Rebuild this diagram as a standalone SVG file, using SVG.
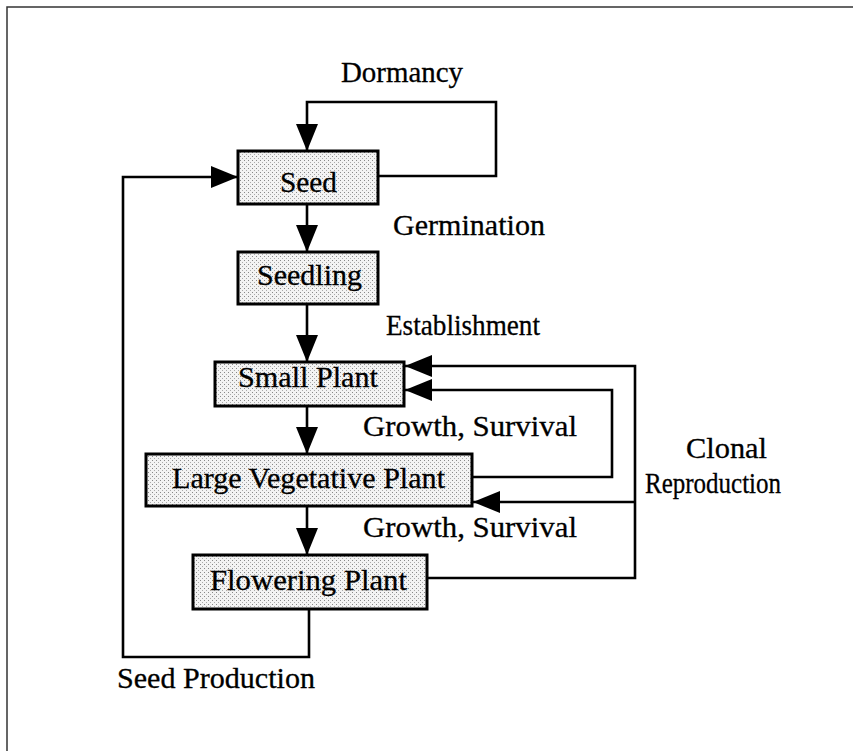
<svg xmlns="http://www.w3.org/2000/svg" width="853" height="751" viewBox="0 0 853 751">
<style>
.box{stroke:#000;stroke-width:3;fill:url(#dots)}
.lbl{font-family:"Liberation Serif","Times New Roman",serif;font-size:30px;fill:#000;stroke:#000;stroke-width:0.3;lengthAdjust:spacingAndGlyphs}
.mid{text-anchor:middle}
.conn{fill:none;stroke:#000;stroke-width:2.6;stroke-linejoin:miter}
.arr{marker-end:url(#ah)}
.frame{fill:none;stroke:#333;stroke-width:1.5}
</style>
<defs>
<pattern id="dots" width="4" height="4" patternUnits="userSpaceOnUse">
<rect width="4" height="4" fill="#f3f3f3"/>
<rect x="0" y="0" width="1" height="1" fill="#888"/>
<rect x="2" y="2" width="1" height="1" fill="#aaa"/>
</pattern>
<marker id="ah" markerUnits="userSpaceOnUse" markerWidth="28" markerHeight="22" refX="27" refY="11" orient="auto">
<path d="M0,0 L27,11 L0,22 z" fill="#000"/>
</marker>
</defs>
<rect width="853" height="751" fill="#fff"/>
<path class="frame" d="M7,751 V7 H853"/>
<g id="connectors">
<path class="conn arr" d="M378,176 H496 V102 H307 V151"/>
<path class="conn arr" d="M307,204 V252"/>
<path class="conn arr" d="M307,304 V362"/>
<path class="conn arr" d="M307,406 V454"/>
<path class="conn arr" d="M307,506 V555"/>
<path class="conn arr" d="M309,609 V657 H123 V177 H238"/>
<path class="conn arr" d="M472,477 H612 V390 H405"/>
<path class="conn arr" d="M427,578 H635 V366 H405"/>
<path class="conn arr" d="M635,502 H473"/>
</g>
<g id="seed">
<rect class="box" x="238" y="151" width="140" height="53"/>
<text class="lbl" x="280" y="192" textLength="57" lengthAdjust="spacingAndGlyphs">Seed</text>
</g>
<g id="seedling">
<rect class="box" x="238" y="252" width="140" height="52"/>
<text class="lbl" x="257" y="285" textLength="105" lengthAdjust="spacingAndGlyphs">Seedling</text>
</g>
<g id="small-plant">
<rect class="box" x="215" y="362" width="189" height="44"/>
<text class="lbl" x="238" y="387" textLength="140" lengthAdjust="spacingAndGlyphs">Small Plant</text>
</g>
<g id="large-vegetative-plant">
<rect class="box" x="146" y="454" width="326" height="52"/>
<text class="lbl" x="172" y="488" textLength="273" lengthAdjust="spacingAndGlyphs">Large Vegetative Plant</text>
</g>
<g id="flowering-plant">
<rect class="box" x="193" y="555" width="234" height="54"/>
<text class="lbl" x="210" y="590" textLength="197" lengthAdjust="spacingAndGlyphs">Flowering Plant</text>
</g>
<g id="labels">
<text class="lbl" x="341" y="82" textLength="122" lengthAdjust="spacingAndGlyphs">Dormancy</text>
<text class="lbl" x="393" y="235" textLength="152" lengthAdjust="spacingAndGlyphs">Germination</text>
<text class="lbl" x="386" y="335" textLength="154" lengthAdjust="spacingAndGlyphs">Establishment</text>
<text class="lbl" x="363" y="436" textLength="214" lengthAdjust="spacingAndGlyphs">Growth, Survival</text>
<text class="lbl" x="363" y="537" textLength="214" lengthAdjust="spacingAndGlyphs">Growth, Survival</text>
<text class="lbl" x="686" y="458" textLength="81" lengthAdjust="spacingAndGlyphs">Clonal</text>
<text class="lbl" x="645" y="493" textLength="136" lengthAdjust="spacingAndGlyphs">Reproduction</text>
<text class="lbl" x="117" y="688" textLength="198" lengthAdjust="spacingAndGlyphs">Seed Production</text>
</g>
</svg>
